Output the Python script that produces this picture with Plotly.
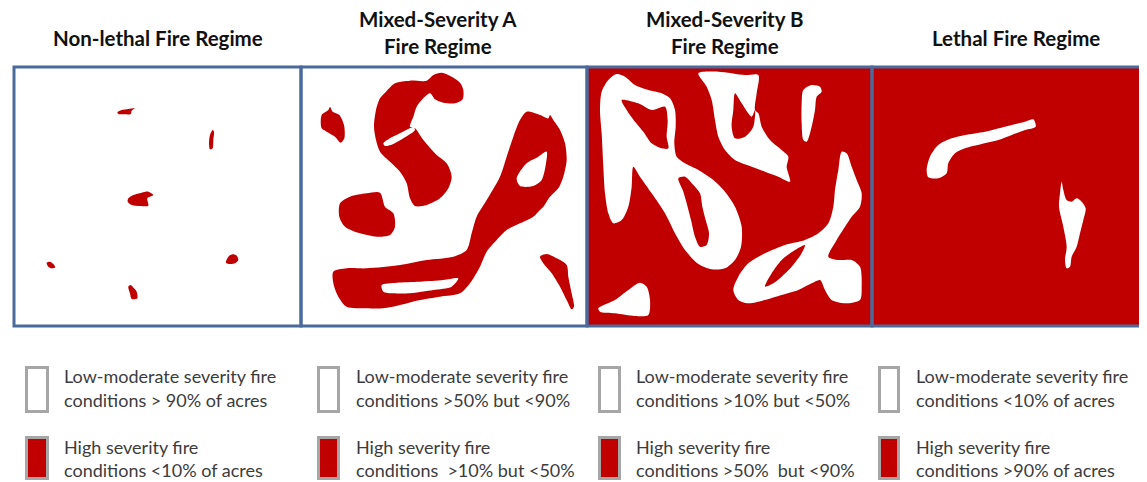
import plotly.graph_objects as go

WIN_W, WIN_H = 1147, 482
OFF = 8  # page body margin of the html page
W, H = WIN_W - OFF, WIN_H - OFF
RED = "#c00000"
WHITE = "#ffffff"
BLUE = "#4a6a9b"
GRAY = "#a6a6a6"
TXT = "#3c3c3c"
FONT = "Lato"

# ---------------- text data ----------------
titles = [
    ["Non-lethal Fire Regime"],
    ["Mixed-Severity A", "Fire Regime"],
    ["Mixed-Severity B", "Fire Regime"],
    ["Lethal Fire Regime"],
]
low_line1 = ["Low-moderate severity fire"] * 4
low_line2 = ["conditions > 90% of acres", "conditions >50% but <90%",
             "conditions >10% but <50%", "conditions <10% of acres"]
high_line1 = ["High severity fire"] * 4
high_line2 = ["conditions <10% of acres", "conditions \u00a0>10% but <50%",
              "conditions >50% \u00a0but <90%", "conditions >90% of acres"]
panel_bg = [WHITE, WHITE, RED, RED]

# ---------------- patch outlines (sketch units, 3 per pixel) ----------------
P1_RED = [
    [(352,157),(365,150),(385,147),(405,145),(395,152),(392,162),(370,163),(355,162)],
    [(630,225),(638,210),(642,215),(640,240),(638,265),(630,268),(627,250)],
    [(385,415),(400,405),(425,398),(445,395),(460,405),(442,415),(445,437),(420,438),(395,435),(383,425)],
    [(140,608),(150,605),(160,612),(166,622),(155,625),(145,620)],
    [(678,608),(685,590),(698,583),(710,587),(715,600),(705,610),(690,612)],
    [(385,680),(392,675),(402,685),(410,695),(412,715),(395,717),(390,700)],
]
P2_RED = [
    [(65,165),(85,150),(90,140),(98,155),(118,165),(132,195),(133,235),(122,248),(105,230),(80,215),(65,205)],
    [(258,95),(285,70),(330,62),(380,62),(400,45),(425,38),(455,50),(480,68),(490,90),(488,118),(465,130),
     (430,128),(405,118),(390,100),(370,115),(350,140),(340,170),(330,200),(345,205),(370,240),(410,285),
     (440,310),(455,350),(445,385),(420,415),(380,435),(345,438),(330,415),(320,370),(300,335),(270,305),
     (240,275),(228,240),(222,200),(228,150),(240,115)],
    [(120,430),(150,410),(200,400),(240,398),(255,440),(280,460),(285,500),(270,525),(230,530),(180,520),
     (135,500),(118,470)],
    [(100,635),(140,625),(200,625),(300,615),(380,600),(460,590),(500,570),(515,520),(530,470),(560,420),
     (600,350),(620,290),(640,230),(660,180),(680,155),(720,165),(745,175),(750,165),(760,180),(780,210),
     (795,250),(800,300),(790,350),(775,385),(750,410),(730,440),(720,450),(700,470),(660,490),(620,510),
     (590,540),(560,575),(540,620),(510,670),(480,700),(420,710),(360,720),(300,735),(250,745),(200,745),
     (140,740),(115,710),(100,670)],
    [(720,590),(740,582),(770,595),(800,615),(805,650),(815,700),(822,740),(815,748),(800,720),(780,680),
     (755,640),(730,610)],
]
P2_HOLES = [
    [(250,250),(270,235),(300,220),(340,202),(345,210),(310,235),(280,252),(255,258)],
    [(650,355),(680,310),(715,290),(740,275),(738,310),(725,360),(700,378),(660,378)],
    [(245,675),(290,668),(360,665),(430,660),(475,655),(455,680),(400,690),(330,700),(280,700),(250,695)],
]
P3_WHITE = [
    [(50,95),(70,60),(95,42),(120,50),(150,75),(190,90),(230,100),(255,115),(270,150),(272,200),(268,250),
     (275,290),(300,310),(340,330),(385,360),(420,395),(450,440),(470,500),(468,560),(450,600),(420,625),
     (380,628),(340,612),(300,570),(270,520),(240,460),(200,400),(165,350),(145,320),(140,380),(130,440),
     (110,480),(85,490),(70,460),(60,400),(55,320),(50,220),(45,150)],
    [(340,40),(400,35),(480,45),(520,45),(515,100),(510,150),(520,160),(530,200),(555,240),(590,270),
     (610,290),(605,320),(615,365),(580,350),(540,335),(500,320),(450,300),(420,270),(400,230),(390,180),
     (380,120),(365,80)],
    [(655,90),(680,75),(705,80),(710,95),(695,110),(690,150),(680,200),(665,245),(655,240),(650,190),(650,130)],
    [(770,275),(785,280),(800,320),(815,360),(830,400),(825,440),(800,470),(780,500),(755,540),(730,590),
     (760,600),(800,600),(825,620),(830,680),(825,720),(780,730),(740,720),(720,690),(705,660),(680,670),
     (640,690),(590,705),(540,720),(490,730),(460,720),(445,690),(460,650),(490,610),(540,580),(600,555),
     (660,540),(700,520),(730,490),(745,440),(750,390),(760,330)],
    [(40,745),(90,720),(130,690),(165,668),(185,680),(195,720),(190,765),(150,768),(90,760),(45,755)],
]
P3_ISLANDS = [
    [(110,120),(160,130),(200,150),(240,140),(248,180),(245,230),(250,265),(230,265),(200,250),(175,215),
     (150,185),(125,150)],
    [(280,355),(300,350),(325,375),(345,400),(352,440),(362,480),(372,520),(365,555),(345,560),(330,530),
     (318,480),(305,430),(295,395)],
    [(450,100),(470,130),(500,170),(510,150),(505,200),(480,230),(450,235),(440,200),(445,150)],
    [(540,680),(560,640),(590,600),(630,570),(660,555),(650,580),(620,620),(590,650),(565,670)],
]
P4_WHITE = [
    [(185,330),(195,290),(220,255),(260,235),(300,225),(360,215),(420,200),(480,185),(505,178),(512,200),
     (480,210),(440,225),(400,240),(350,252),(300,265),(270,280),(250,310),(245,340),(220,355),(190,352)],
    [(590,365),(595,390),(605,420),(620,425),(635,415),(650,425),(662,445),(655,480),(645,520),(635,560),
     (620,590),(615,620),(605,625),(600,600),(605,560),(595,500),(582,440),(585,400)],
]

layers = [
    [(P1_RED, RED)],
    [(P2_RED, RED), (P2_HOLES, WHITE)],
    [(P3_WHITE, WHITE), (P3_ISLANDS, RED)],
    [(P4_WHITE, WHITE)],
]

# ---------------- layout geometry (window pixels) ----------------
panel_x = [(14, 301), (301, 587), (587, 872), (872, 1147)]
sketch_origin = [(0, 60), (300, 60), (585, 60), (865, 60)]
top, bottom = 67, 326
title_cx = [158, 438, 725, 1016]
swatch_x = [(25, 49), (317, 340), (598, 621), (878, 900)]
text_x = [62, 354, 634, 914]

def px(x):
    return (x - OFF) / W

def py(y):
    return 1 - (y - OFF) / H

fig = go.Figure()
shapes, annotations = [], []
lay = {}
for i in range(4):
    n = "" if i == 0 else str(i + 1)
    x0, x1 = panel_x[i]
    zx, zy = sketch_origin[i]
    lay[f"xaxis{n}"] = dict(domain=[px(x0), min(1.0, px(x1))], range=[(x0 - zx) * 3, (x1 - zx) * 3],
                            visible=False, anchor=f"y{n}", fixedrange=True)
    lay[f"yaxis{n}"] = dict(domain=[py(bottom), py(top)], range=[(bottom - zy) * 3, (top - zy) * 3],
                            visible=False, anchor=f"x{n}", fixedrange=True)
    for polys, col in layers[i]:
        for poly in polys:
            xs = [p[0] for p in poly] + [poly[0][0]]
            ys = [p[1] for p in poly] + [poly[0][1]]
            fig.add_trace(go.Scatter(x=xs, y=ys, mode="lines", fill="toself", fillcolor=col,
                                     line=dict(width=0, shape="spline", smoothing=0.8, color=col),
                                     hoverinfo="skip", showlegend=False,
                                     xaxis=f"x{n}", yaxis=f"y{n}"))
    # panel background and frame
    fx1 = x1 if i < 3 else 1162
    shapes.append(dict(type="rect", xref="paper", yref="paper", x0=px(x0), x1=px(fx1),
                       y0=py(bottom), y1=py(top), fillcolor=panel_bg[i], line=dict(width=0), layer="below"))
    shapes.append(dict(type="rect", xref="paper", yref="paper", x0=px(x0), x1=px(fx1),
                       y0=py(bottom), y1=py(top), line=dict(color=BLUE, width=3), layer="above"))
    # titles
    lines = titles[i]
    ys = [38] if len(lines) == 1 else [19.5, 46]
    for t, yy in zip(lines, ys):
        annotations.append(dict(text=f"<b>{t}</b>", x=px(title_cx[i]), y=py(yy), xref="paper", yref="paper",
                                xanchor="center", yanchor="middle", showarrow=False, borderpad=0,
                                font=dict(family=FONT, size=20.5, color="#111111")))
    # legend swatches
    sx0, sx1 = swatch_x[i]
    shapes.append(dict(type="rect", xref="paper", yref="paper", x0=px(sx0 + 1.5), x1=px(sx1 - 1.5),
                       y0=py(411.5), y1=py(367.5), fillcolor=WHITE, line=dict(color=GRAY, width=3)))
    shapes.append(dict(type="rect", xref="paper", yref="paper", x0=px(sx0 + 1.5), x1=px(sx1 - 1.5),
                       y0=py(478.5), y1=py(437.5), fillcolor=RED, line=dict(color=GRAY, width=3)))
    for t, yy in zip([low_line1[i], low_line2[i], high_line1[i], high_line2[i]], [376, 400, 447, 470]):
        annotations.append(dict(text=t, x=px(text_x[i]), y=py(yy), xref="paper", yref="paper",
                                xanchor="left", yanchor="middle", showarrow=False,
                                font=dict(family=FONT, size=18, color=TXT)))

fig.update_layout(width=W, height=H, margin=dict(l=0, r=0, t=0, b=0),
                  paper_bgcolor=WHITE, plot_bgcolor="rgba(0,0,0,0)",
                  shapes=shapes, annotations=annotations, showlegend=False, **lay)
fig.write_html("out.html")
